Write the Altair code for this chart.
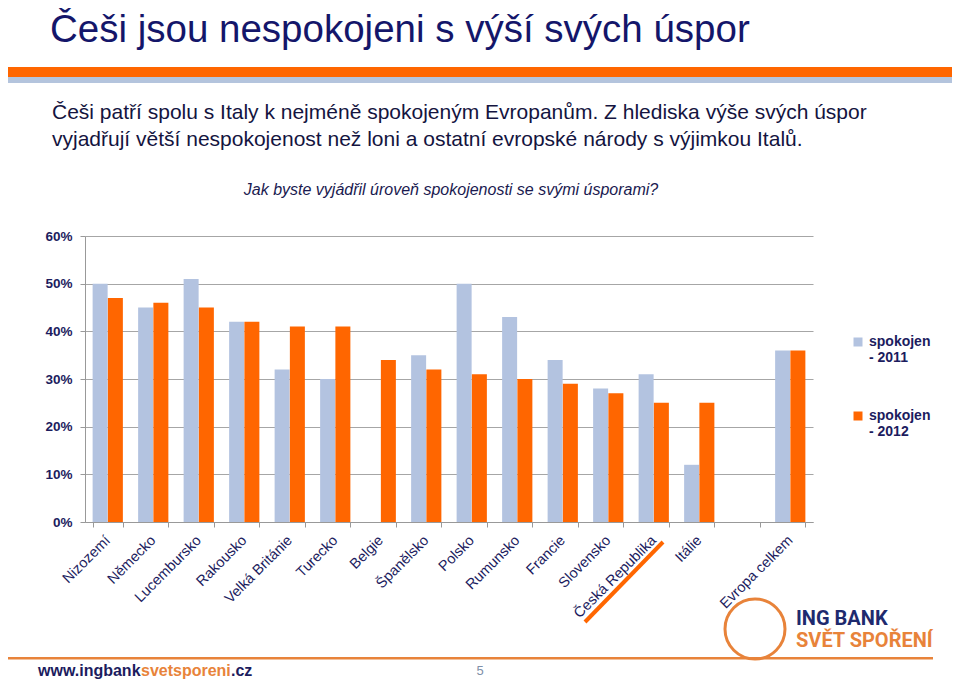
import altair as alt
import pandas as pd

# ---- data ----
countries = ["Nizozemí", "Německo", "Lucembursko", "Rakousko", "Velká Británie",
             "Turecko", "Belgie", "Španělsko", "Polsko", "Rumunsko", "Francie",
             "Slovensko", "Česká Republika", "Itálie", " ", "Evropa celkem"]
vals_2011 = [0.50, 0.45, 0.51, 0.42, 0.32, 0.30, None, 0.35, 0.50, 0.43, 0.34,
             0.28, 0.31, 0.12, None, 0.36]
vals_2012 = [0.47, 0.46, 0.45, 0.42, 0.41, 0.41, 0.34, 0.32, 0.31, 0.30, 0.29,
             0.27, 0.25, 0.25, None, 0.36]
series = ["spokojen - 2011", "spokojen - 2012"]
colors = ["#B3C3E0", "#FF6600"]

title_text = "Češi jsou nespokojeni s výší svých úspor"
sub1 = "Češi patří spolu s Italy k nejméně spokojeným Evropanům. Z hlediska výše svých úspor"
sub2 = "vyjadřují větší nespokojenost než loni a ostatní evropské národy s výjimkou Italů."
question = "Jak byste vyjádřil úroveň spokojenosti se svými úsporami?"
url_parts = ["www.ingbank", "svetsporeni", ".cz"]
page_no = "5"
logo1 = "ING BANK"
logo2 = "SVĚT SPOŘENÍ"

rows = []
for c, a, b in zip(countries, vals_2011, vals_2012):
    if a is not None:
        rows.append({"země": c, "série": series[0], "hodnota": a})
    if b is not None:
        rows.append({"země": c, "série": series[1], "hodnota": b})
df = pd.DataFrame(rows)

NAVY = "#1C1C5E"
FONT = "Liberation Sans"

# plot area origin on page is (85, 236); chart padding puts it there
OX, OY = 85, 236

def px(x):
    return x - OX

def py(y):
    return y - OY

bars = alt.Chart(df).mark_bar(size=15).encode(
    x=alt.X("země:N", sort=countries,
            scale=alt.Scale(domain=countries, paddingInner=0.33, paddingOuter=0.165),
            axis=alt.Axis(title=None, labelAngle=-45, labelAlign="right",
                          labelBaseline="middle", labelFont=FONT, labelFontSize=14.5,
                          labelColor=NAVY, labelOverlap=False, labelPadding=11,
                          tickBand="extent", tickColor="#999999", tickSize=5,
                          domainColor="#999999", labelLimit=200)),
    xOffset=alt.XOffset("série:N", sort=series, scale=alt.Scale(paddingInner=0, paddingOuter=0)),
    y=alt.Y("hodnota:Q", scale=alt.Scale(domain=[0, 0.6], nice=False),
            axis=alt.Axis(title=None, format="%", values=[0, 0.1, 0.2, 0.3, 0.4, 0.5, 0.6],
                          labelFont=FONT, labelFontSize=13.5, labelFontWeight="bold",
                          labelColor=NAVY, labelPadding=8, tickSize=5,
                          tickColor="#999999", domainColor="#999999",
                          gridColor="#A6A6A6", gridWidth=1.2)),
    color=alt.Color("série:N", sort=series,
                    scale=alt.Scale(domain=series, range=colors),
                    legend=alt.Legend(title=None, orient="none", legendX=766, legendY=99,
                                      symbolType="square", symbolSize=81,
                                      symbolStrokeWidth=0, direction="vertical",
                                      labelFont=FONT, labelFontSize=14,
                                      labelFontWeight="bold", labelColor=NAVY,
                                      labelExpr="[slice(datum.label,0,8), slice(datum.label,9)]",
                                      rowPadding=44, labelOffset=4)),
)


def text_layer(txt, x, y, size, color=NAVY, weight="normal", style="normal",
               align="left", font=FONT, baseline="middle"):
    return alt.Chart(alt.Data(values=[{"t": txt}])).mark_text(
        align=align, baseline=baseline, font=font, fontSize=size,
        fontWeight=weight, fontStyle=style, color=color
    ).encode(text="t:N", x=alt.value(px(x)), y=alt.value(py(y)))


def band(y1, y2, color, x1=8, x2=952):
    return alt.Chart(alt.Data(values=[{"k": 1}])).mark_rect(color=color).encode(
        x=alt.value(px(x1)), x2=alt.value(px(x2)),
        y=alt.value(py(y1)), y2=alt.value(py(y2)))


layers = [
    band(67, 77, "#FF6600"),
    band(77, 83, "#B4C4DD"),
    band(657, 659.5, "#E8833A", x2=933),
    bars,
    text_layer(title_text, 50, 42, 38.5, color="#14166A", baseline="alphabetic"),
    text_layer(sub1, 52, 113, 21, color="#141440"),
    text_layer(sub2, 52, 140, 21, color="#141440"),
    text_layer(question, 451, 190, 16, color="#1A1A50", style="italic", align="center"),
    text_layer(url_parts[0], 38, 671, 16, color=NAVY, weight="bold"),
    text_layer(url_parts[1], 141, 671, 16, color="#E8833A", weight="bold"),
    text_layer(url_parts[2], 231, 671, 16, color=NAVY, weight="bold"),
    text_layer(page_no, 480, 671, 13, color="#8090A8", align="center"),
    text_layer(logo1, 796, 619, 20, color="#1E2A6E", weight="bold", font="Roboto"),
    text_layer(logo2, 796, 641, 20, color="#E8833A", weight="bold", font="Roboto"),
]

# logo circle
layers.append(alt.Chart(alt.Data(values=[{"k": 1}])).mark_point(
    shape="circle", filled=False, size=3600, color="#E8833A", strokeWidth=3,
    opacity=1).encode(x=alt.value(px(755)), y=alt.value(py(629))))

# highlight line under Česká Republika
layers.append(alt.Chart(alt.Data(values=[{"k": 1}])).mark_rule(
    color="#FF6600", strokeWidth=4).encode(
    x=alt.value(px(585)), y=alt.value(py(622)),
    x2=alt.value(px(663)), y2=alt.value(py(542))))

chart = alt.layer(*layers).properties(
    width=728, height=286,
    padding={"left": OX - 8, "top": OY - 8, "right": 944 - (OX - 8) - 728,
             "bottom": 671 - (OY - 8) - 286},
    autosize=alt.AutoSizeParams(type="none"),
    background="white",
).configure_view(stroke=None).configure_axis(grid=True).configure_axisX(grid=False)

chart.save("out.html", embed_options={"renderer": "svg", "actions": False})
